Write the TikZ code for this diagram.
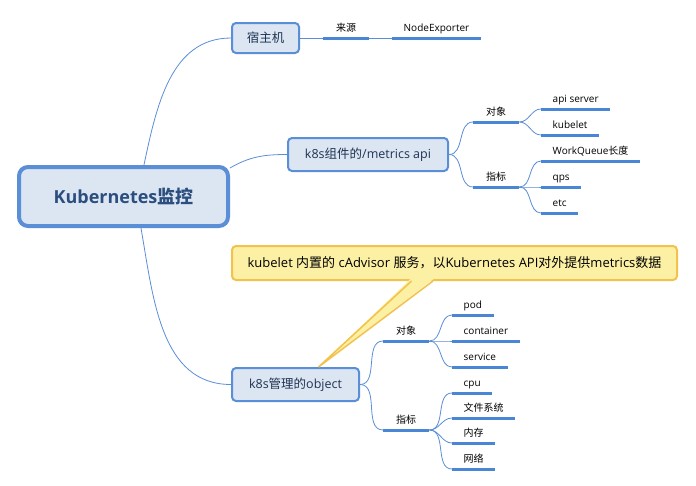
\documentclass[tikz,border=0pt]{standalone}
\usepackage{fontspec}
\setmainfont{Open Sans}
\newfontfamily\cjk{Noto Sans CJK SC}
\usetikzlibrary{calc}

\newcommand{\zh}[1]{{\cjk #1}}

\definecolor{boxblue}{HTML}{DCE6F2}
\definecolor{lineblue}{HTML}{5A8ED6}
\definecolor{barblue}{HTML}{4A86D6}
\definecolor{textnavy}{HTML}{1E3352}
\definecolor{rootnavy}{HTML}{2C4E7E}
\definecolor{noteyellow}{HTML}{FCF0A4}
\definecolor{noteline}{HTML}{F2C24F}

\tikzset{
  topic/.style={draw=lineblue, fill=boxblue, line width=2pt, rounded corners=4pt,
    text=textnavy, inner sep=0pt, font=\fontsize{12.5}{15}\selectfont},
  roottopic/.style={topic, line width=4pt, rounded corners=9pt, text=rootnavy,
    font=\fontsize{18}{21}\selectfont\bfseries},
  subtopic/.style={anchor=south west, inner xsep=13pt, inner ysep=4.5pt,
    text height=7.5pt, text depth=2pt, font=\fontsize{10}{12}\selectfont},
  leaf/.style={subtopic, inner xsep=11.5pt},
  branch/.style={draw=lineblue, line width=0.8pt},
  uline/.style={draw=barblue, line width=3pt},
  notebox/.style={draw=noteline, fill=noteyellow, line width=2pt, rounded corners=4pt,
    inner sep=0pt, font=\fontsize{13}{15}\selectfont}
}

\begin{document}
\begin{tikzpicture}[x=1pt, y=-1pt]
  \useasboundingbox (0,0) rectangle (696,485);

  % Main topics
  \node[roottopic, minimum width=209, minimum height=59] (root) at (123.5,196.5) {Kubernetes\zh{监控}};
  \node[topic, minimum width=67, minimum height=30] (host) at (265.5,38) {\zh{宿主机}};
  \node[topic, minimum width=160, minimum height=33] (comp) at (368,154.5) {k8s\zh{组件的}/metrics api};
  \node[topic, minimum width=127, minimum height=33] (obj) at (295.5,384.5) {k8s\zh{管理的}object};

  % Callout
  \node[notebox, minimum width=445, minimum height=34] (note) at (454.5,263)
    {kubelet \zh{内置的} cAdvisor \zh{服务，以}Kubernetes API\zh{对外提供}metrics\zh{数据}};
  \fill[noteyellow] ($(note.south)+(-44,-2)$) -- ($(obj.north)+(23,0)$) -- ($(note.south)+(-21,-2)$) -- cycle;
  \draw[noteline, line width=1.5pt] ($(note.south)+(-43,0)$) -- ($(obj.north)+(23,0)$) -- ($(note.south)+(-21.5,0)$);

  % Host branch
  \node[subtopic] (src) at (323,38) {\zh{来源}};
  \node[leaf] (nexp) at (392,38) {NodeExporter};

  % Component branch
  \node[subtopic] (cobj) at (473,122) {\zh{对象}};
  \node[subtopic] (cind) at (473,187) {\zh{指标}};
  \node[leaf] (apis) at (541,109) {api server};
  \node[leaf] (kblt) at (541,135) {kubelet};
  \node[leaf] (wq) at (541,161) {WorkQueue\zh{长度}};
  \node[leaf] (qps) at (541,187) {qps};
  \node[leaf] (etc) at (541,213) {etc};

  % Object branch
  \node[subtopic] (oobj) at (383,341) {\zh{对象}};
  \node[subtopic] (oind) at (383,430) {\zh{指标}};
  \node[leaf] (pod) at (452,315) {pod};
  \node[leaf] (ctr) at (452,341) {container};
  \node[leaf] (svc) at (452,367) {service};
  \node[leaf] (cpu) at (452,393) {cpu};
  \node[leaf] (fs) at (452,418) {\zh{文件系统}};
  \node[leaf] (mem) at (452,443) {\zh{内存}};
  \node[leaf] (net) at (452,469) {\zh{网络}};

  % Underlines
  \foreach \n in {src,nexp,cobj,cind,apis,kblt,wq,qps,etc,oobj,oind,pod,ctr,svc,cpu,fs,mem,net}
    \draw[uline] (\n.south west) -- (\n.south east);

  % Connectors
  \draw[branch] (root.57) to[out=78,in=180] (host.west);
  \draw[branch] (root.15) to[out=30,in=180] (comp.west);
  \draw[branch] (root.-61) to[out=-80,in=180] (obj.west);

  \draw[branch] (host.east) -- (src.south west);
  \draw[branch] (src.south east) -- (nexp.south west);

  \foreach \n in {cobj,cind}
    \draw[branch] (comp.east) to[out=0,in=180] (\n.south west);
  \foreach \n in {apis,kblt}
    \draw[branch] (cobj.south east) to[out=0,in=180] (\n.south west);
  \foreach \n in {wq,qps,etc}
    \draw[branch] (cind.south east) to[out=0,in=180] (\n.south west);

  \foreach \n in {oobj,oind}
    \draw[branch] (obj.east) to[out=0,in=180] (\n.south west);
  \foreach \n in {pod,ctr,svc}
    \draw[branch] (oobj.south east) to[out=0,in=180] (\n.south west);
  \foreach \n in {cpu,fs,mem,net}
    \draw[branch] (oind.south east) to[out=0,in=180] (\n.south west);
\end{tikzpicture}
\end{document}
